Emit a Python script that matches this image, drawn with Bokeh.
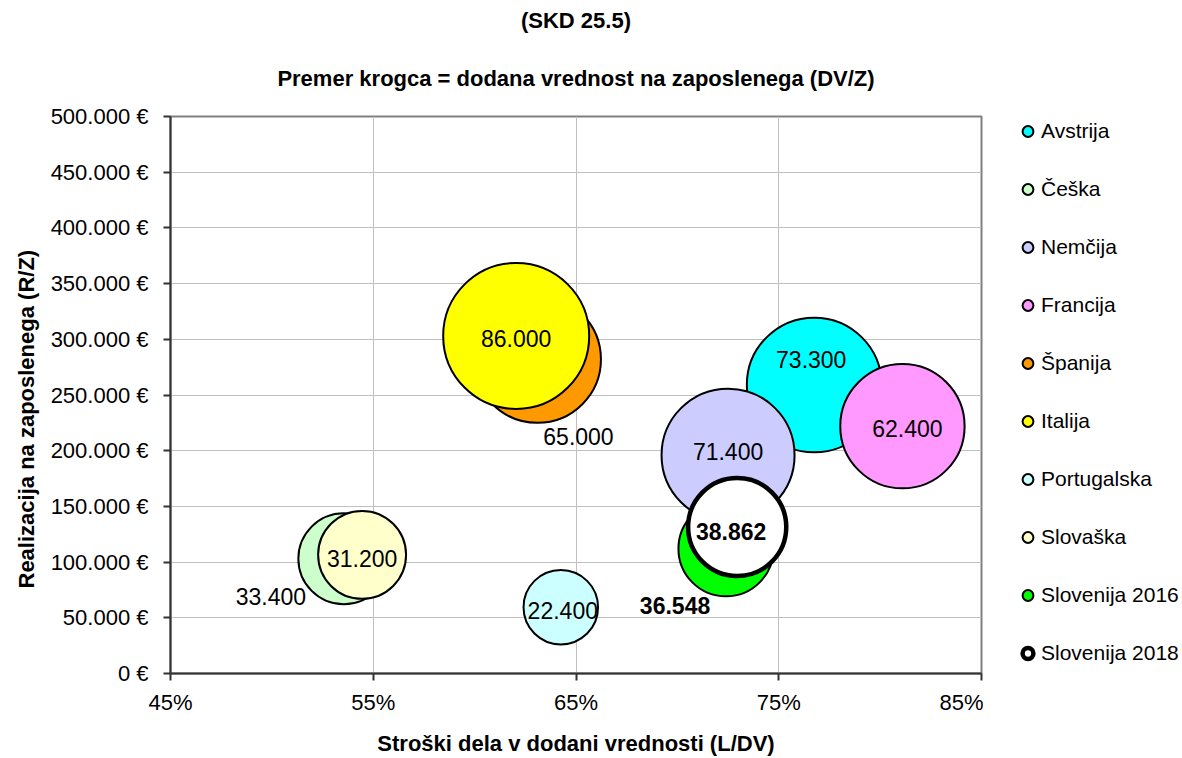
import numpy as np
from bokeh.plotting import figure
from bokeh.layouts import row
from bokeh.models import ColumnDataSource, FixedTicker, Legend, LegendItem, Title, Range1d
from bokeh.core.properties import value
from bokeh.embed import file_html
from bokeh.resources import INLINE

# ---- data ----
countries = ["Avstrija", "Češka", "Nemčija", "Francija", "Španija", "Italija",
             "Portugalska", "Slovaška", "Slovenija 2016", "Slovenija 2018"]
labour_cost_share = [76.75, 53.55, 72.5, 81.1, 63.1, 62.05, 64.25, 54.45, 72.4, 72.95]   # L/DV, %
revenue_per_employee = [259000, 103000, 196000, 222000, 282000, 303000, 59500, 106500, 112000, 131500]  # R/Z
value_added_per_employee = [73300, 33400, 71400, 62400, 65000, 86000, 22400, 31200, 36548, 38862]  # DV/Z

x_ticks = [45, 55, 65, 75, 85]
y_ticks = [0, 50000, 100000, 150000, 200000, 250000, 300000, 350000, 400000, 450000, 500000]

# ---- styles ----
fill_colors = ["#00FFFF", "#CCFFCC", "#CCCCFF", "#FF99FF", "#FF9900", "#FFFF00",
               "#CCFFFF", "#FFFFCC", "#00FF00", "#FFFFFF"]
line_widths = [2, 2, 2, 2, 2, 2, 2, 2, 2, 4.5]
bold_label = [False] * 8 + [True, True]
label_dx = [-3, -73, 0, 5, 41, 0, 2, 0, -51, -6]
label_dy = [-25, 38, -4, 2, 77, 3, 3, 4, 57, 4]
px_per_sqrt_value = 146 / np.sqrt(86000)

FONT = "Liberation Sans"

p = figure(width=983, height=758,
           min_border_left=170, min_border_right=2, min_border_top=113, min_border_bottom=81,
           x_range=(45, 85), y_range=(0, 500000),
           output_backend="svg", toolbar_location=None,
           background_fill_color="white", border_fill_color="white")

p.outline_line_color = "#808080"
p.outline_line_width = 2

sizes = [float(px_per_sqrt_value * np.sqrt(v)) for v in value_added_per_employee]

for i, name in enumerate(countries):
    src = ColumnDataSource(dict(x=[labour_cost_share[i]], y=[revenue_per_employee[i]], s=[sizes[i]]))
    p.scatter("x", "y", size="s", source=src, marker="circle",
              fill_color=fill_colors[i], line_color="black", line_width=line_widths[i])

# data labels
def fmt(v):
    return f"{v:,}".replace(",", ".")

for bold in (False, True):
    idx = [i for i in range(len(countries)) if bold_label[i] == bold]
    src = ColumnDataSource(dict(
        x=[labour_cost_share[i] for i in idx],
        y=[revenue_per_employee[i] for i in idx],
        t=[fmt(value_added_per_employee[i]) for i in idx],
        dx=[label_dx[i] for i in idx],
        dy=[label_dy[i] for i in idx],
    ))
    p.text("x", "y", text="t", source=src, x_offset="dx", y_offset="dy",
           text_align="center", text_baseline="middle",
           text_font=value(FONT), text_font_size="23px",
           text_font_style="bold" if bold else "normal", text_color="black")

# axes
p.xaxis.ticker = FixedTicker(ticks=x_ticks)
p.xaxis.major_label_overrides = {t: f"{t}%" for t in x_ticks}
p.yaxis.ticker = FixedTicker(ticks=y_ticks)
p.yaxis.major_label_overrides = {t: f"{fmt(t)} €" for t in y_ticks}

for ax in (p.xaxis[0], p.yaxis[0]):
    ax.axis_line_color = "#333333"
    ax.axis_line_width = 2
    ax.major_tick_line_color = "#333333"
    ax.major_tick_line_width = 2
    ax.major_tick_out = 7
    ax.major_tick_in = 0
    ax.minor_tick_line_color = None
    ax.major_label_text_font = FONT
    ax.major_label_text_font_size = "22px"
    ax.major_label_text_color = "black"
    ax.axis_label_text_font = FONT
    ax.axis_label_text_font_size = "22px"
    ax.axis_label_text_font_style = "bold"
    ax.axis_label_text_color = "black"

p.xaxis.axis_label = "Stroški dela v dodani vrednosti (L/DV)"
p.xaxis.major_label_standoff = 9
p.xaxis.axis_label_standoff = 13
p.yaxis.major_label_standoff = 15

ytitle = Title(text="Realizacija na zaposlenega (R/Z)", align="left", offset=85,
               vertical_align="bottom", standoff=18,
               text_font=FONT, text_font_size="22px", text_font_style="bold", text_color="black")
p.add_layout(ytitle, "left")

p.xgrid.grid_line_color = "#C0C0C0"
p.ygrid.grid_line_color = "#C0C0C0"

t1 = Title(text="Premer krogca = dodana vrednost na zaposlenega (DV/Z)", align="center",
           text_font=FONT, text_font_size="22px", text_font_style="bold", text_color="black",
           standoff=52)
t2 = Title(text="(SKD 25.5)", align="center",
           text_font=FONT, text_font_size="22px", text_font_style="bold", text_color="black",
           standoff=10)
p.add_layout(t1, "above")
p.add_layout(t2, "above")

# ---- legend panel (same series styles; legend-only renderers hold no visible point) ----
pl = figure(width=199, height=758, x_range=Range1d(0, 1), y_range=Range1d(0, 1),
            min_border_left=0, min_border_right=0, min_border_top=0, min_border_bottom=0,
            x_axis_location=None, y_axis_location=None,
            output_backend="svg", toolbar_location=None,
            background_fill_color="white", border_fill_color="white")
pl.outline_line_color = None
pl.grid.visible = False

items = []
for i, name in enumerate(countries):
    r = pl.scatter(x=[float("nan")], y=[float("nan")], marker="circle", size=10,
                   fill_color=fill_colors[i], line_color="black", line_width=line_widths[i])
    items.append(LegendItem(label=name, renderers=[r]))

legend = Legend(items=items, location=(31, 5), orientation="vertical",
                glyph_width=27, glyph_height=30, label_height=30, spacing=28,
                label_standoff=0, padding=0, margin=0,
                border_line_color=None, background_fill_alpha=0,
                label_text_font=FONT, label_text_font_size="21px", label_text_color="black")
pl.add_layout(legend, "center")

layout = row(p, pl, spacing=0)
open("out.html", "w").write(file_html(layout, INLINE))
